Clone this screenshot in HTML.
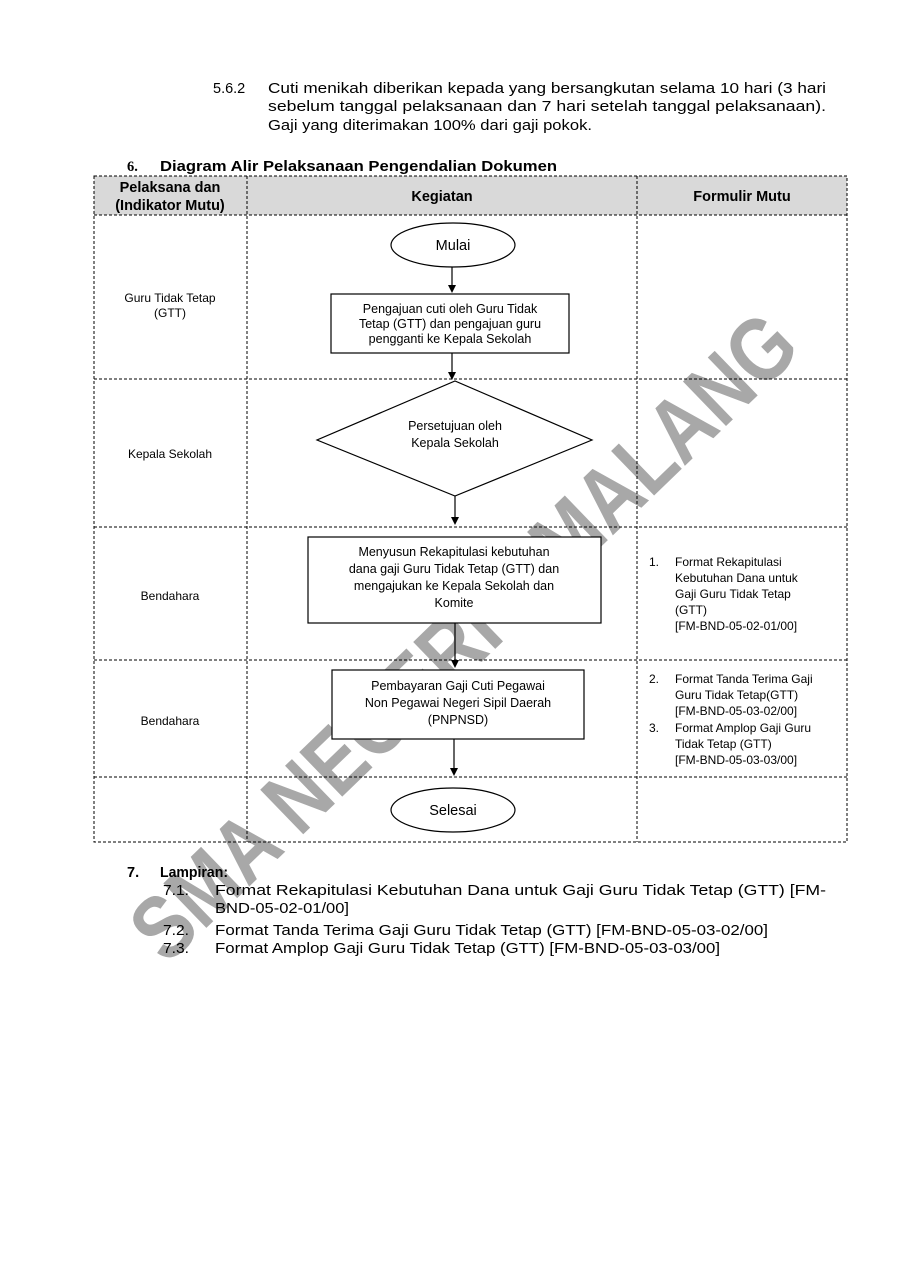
<!DOCTYPE html>
<html><head><meta charset="utf-8"><style>
body{margin:0;background:#fff;}
svg{display:block}
text{font-family:"Liberation Sans",Arial,sans-serif;fill:#000}
</style></head><body>
<svg width="900" height="1273" viewBox="0 0 900 1273" xmlns="http://www.w3.org/2000/svg">
<g font-size="14.5">
<text x="213" y="93">5.6.2</text>
<text x="268" y="93" textLength="558" lengthAdjust="spacingAndGlyphs">Cuti menikah diberikan kepada yang bersangkutan selama 10 hari (3 hari</text>
<text x="268" y="111" textLength="558" lengthAdjust="spacingAndGlyphs">sebelum tanggal pelaksanaan dan 7 hari setelah tanggal pelaksanaan).</text>
<text x="268" y="130" textLength="324" lengthAdjust="spacingAndGlyphs">Gaji yang diterimakan 100% dari gaji pokok.</text>
</g>
<rect x="94" y="176" width="753" height="39" fill="#d9d9d9"/>
<text x="467" y="666" font-size="90" font-weight="bold" text-anchor="middle" style="fill:#a8a8a8" textLength="885" lengthAdjust="spacingAndGlyphs" transform="rotate(-44 467 640)">SMA NEGERI 1 MALANG</text>
<text x="127" y="171" font-size="14.5" font-weight="bold" style="font-family:'Liberation Serif',serif">6.</text>
<text x="160" y="171" font-size="14.5" font-weight="bold" textLength="397" lengthAdjust="spacingAndGlyphs">Diagram Alir Pelaksanaan Pengendalian Dokumen</text>
<g stroke="#000" stroke-width="1" stroke-dasharray="3,2" fill="none">
<rect x="94" y="176" width="753" height="666"/>
<line x1="247" y1="176" x2="247" y2="842"/>
<line x1="637" y1="176" x2="637" y2="842"/>
<line x1="94" y1="215" x2="847" y2="215"/>
<line x1="94" y1="379" x2="847" y2="379"/>
<line x1="94" y1="527" x2="847" y2="527"/>
<line x1="94" y1="660" x2="847" y2="660"/>
<line x1="94" y1="777" x2="847" y2="777"/>
</g>
<g font-weight="bold" font-size="14.5" text-anchor="middle">
<text x="170" y="192">Pelaksana dan</text>
<text x="170" y="210">(Indikator Mutu)</text>
<text x="442" y="201">Kegiatan</text>
<text x="742" y="201">Formulir Mutu</text>
</g>
<g font-size="12" text-anchor="middle">
<text x="170" y="302">Guru Tidak Tetap</text>
<text x="170" y="317">(GTT)</text>
<text x="170" y="458">Kepala Sekolah</text>
<text x="170" y="600">Bendahara</text>
<text x="170" y="725">Bendahara</text>
</g>
<g stroke="#000" fill="#fff" stroke-width="1.2">
<ellipse cx="453" cy="245" rx="62" ry="22"/>
<rect x="331" y="294" width="238" height="59"/>
<polygon points="455,381 592,440 455,496 317,440"/>
<rect x="308" y="537" width="293" height="86"/>
<rect x="332" y="670" width="252" height="69"/>
<ellipse cx="453" cy="810" rx="62" ry="22"/>
</g>
<g stroke="#000" stroke-width="1.2">
<line x1="452" y1="267" x2="452" y2="285"/>
<line x1="452" y1="353" x2="452" y2="372"/>
<line x1="455" y1="496" x2="455" y2="517"/>
<line x1="455" y1="623" x2="455" y2="660"/>
<line x1="454" y1="739" x2="454" y2="768"/>
</g>
<g fill="#000">
<polygon points="448,285 456,285 452,293"/>
<polygon points="448,372 456,372 452,380"/>
<polygon points="451,517 459,517 455,525"/>
<polygon points="451,660 459,660 455,668"/>
<polygon points="450,768 458,768 454,776"/>
</g>
<g font-size="14.5" text-anchor="middle">
<text x="453" y="250">Mulai</text>
<text x="453" y="815">Selesai</text>
</g>
<g font-size="12.5" text-anchor="middle">
<text x="450" y="313">Pengajuan cuti oleh Guru Tidak</text>
<text x="450" y="328">Tetap (GTT) dan pengajuan guru</text>
<text x="450" y="343">pengganti ke Kepala Sekolah</text>
<text x="455" y="430">Persetujuan oleh</text>
<text x="455" y="447">Kepala Sekolah</text>
<text x="454" y="556">Menyusun Rekapitulasi kebutuhan</text>
<text x="454" y="573">dana gaji Guru Tidak Tetap (GTT) dan</text>
<text x="454" y="590">mengajukan ke Kepala Sekolah dan</text>
<text x="454" y="607">Komite</text>
<text x="458" y="690">Pembayaran Gaji Cuti Pegawai</text>
<text x="458" y="707">Non Pegawai Negeri Sipil Daerah</text>
<text x="458" y="724">(PNPNSD)</text>
</g>
<g font-size="12">
<text x="649" y="566">1.</text>
<text x="675" y="566">Format Rekapitulasi</text>
<text x="675" y="582">Kebutuhan Dana untuk</text>
<text x="675" y="598">Gaji Guru Tidak Tetap</text>
<text x="675" y="614">(GTT)</text>
<text x="675" y="630">[FM-BND-05-02-01/00]</text>
<text x="649" y="683">2.</text>
<text x="675" y="683">Format Tanda Terima Gaji</text>
<text x="675" y="699">Guru Tidak Tetap(GTT)</text>
<text x="675" y="715">[FM-BND-05-03-02/00]</text>
<text x="649" y="732">3.</text>
<text x="675" y="732">Format Amplop Gaji Guru</text>
<text x="675" y="748">Tidak Tetap (GTT)</text>
<text x="675" y="764">[FM-BND-05-03-03/00]</text>
</g>
<g font-size="14.5">
<text x="127" y="877" font-weight="bold">7.</text>
<text x="160" y="877" font-weight="bold" textLength="68" lengthAdjust="spacingAndGlyphs">Lampiran:</text>
<text x="163" y="895" textLength="26" lengthAdjust="spacingAndGlyphs">7.1.</text>
<text x="215" y="895" textLength="611" lengthAdjust="spacingAndGlyphs">Format Rekapitulasi Kebutuhan Dana untuk Gaji Guru Tidak Tetap (GTT) [FM-</text>
<text x="215" y="913" textLength="134" lengthAdjust="spacingAndGlyphs">BND-05-02-01/00]</text>
<text x="163" y="935" textLength="26" lengthAdjust="spacingAndGlyphs">7.2.</text>
<text x="215" y="935" textLength="553" lengthAdjust="spacingAndGlyphs">Format Tanda Terima Gaji Guru Tidak Tetap (GTT) [FM-BND-05-03-02/00]</text>
<text x="163" y="953" textLength="26" lengthAdjust="spacingAndGlyphs">7.3.</text>
<text x="215" y="953" textLength="505" lengthAdjust="spacingAndGlyphs">Format Amplop Gaji Guru Tidak Tetap (GTT) [FM-BND-05-03-03/00]</text>
</g>
</svg>
</body></html>
